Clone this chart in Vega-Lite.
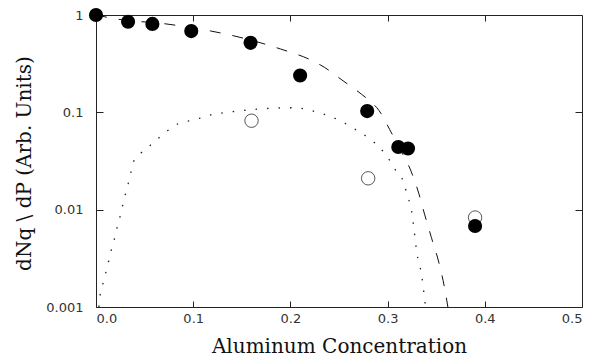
{
  "$schema": "https://vega.github.io/schema/vega-lite/v6.json",
  "autosize": {"type": "none"},
  "padding": {"left": 96, "top": 15, "right": 14, "bottom": 49},
  "width": 486,
  "height": 292,
  "background": "white",
  "config": {
    "view": {"stroke": "#222", "strokeWidth": 1},
    "axis": {"grid": false, "domain": false, "tickColor": "#222", "tickWidth": 1, "labelFont": "DejaVu Sans", "labelFontSize": 13, "labelColor": "#333", "titleFont": "DejaVu Serif", "titleFontSize": 20, "titleFontWeight": "normal", "titleColor": "#111"}
  },
  "datasets": {
    "dashed": [
      {"x": 0, "y": 1}, {"x": 0.021, "y": 0.91}, {"x": 0.072, "y": 0.81}, {"x": 0.118, "y": 0.685},
      {"x": 0.142, "y": 0.61}, {"x": 0.19, "y": 0.447}, {"x": 0.221, "y": 0.345}, {"x": 0.235, "y": 0.29},
      {"x": 0.253, "y": 0.215}, {"x": 0.273, "y": 0.154}, {"x": 0.28, "y": 0.135}, {"x": 0.291, "y": 0.105},
      {"x": 0.302, "y": 0.067}, {"x": 0.311, "y": 0.045}, {"x": 0.324, "y": 0.025}, {"x": 0.332, "y": 0.0148},
      {"x": 0.338, "y": 0.009}, {"x": 0.345, "y": 0.0052}, {"x": 0.353, "y": 0.0028}, {"x": 0.359, "y": 0.0015},
      {"x": 0.362, "y": 0.001}
    ],
    "dotted": [
      {"x": 0.003, "y": 0.001}, {"x": 0.0043, "y": 0.00133}, {"x": 0.007, "y": 0.00172}, {"x": 0.0098, "y": 0.0022},
      {"x": 0.0128, "y": 0.0029}, {"x": 0.0156, "y": 0.0038}, {"x": 0.0187, "y": 0.0049}, {"x": 0.0214, "y": 0.0064},
      {"x": 0.0245, "y": 0.0083}, {"x": 0.0272, "y": 0.0108}, {"x": 0.03, "y": 0.0141}, {"x": 0.0331, "y": 0.0184},
      {"x": 0.0358, "y": 0.0239}, {"x": 0.0388, "y": 0.0314}, {"x": 0.0465, "y": 0.0384}, {"x": 0.0553, "y": 0.0453},
      {"x": 0.0645, "y": 0.0545}, {"x": 0.0738, "y": 0.065}, {"x": 0.084, "y": 0.0759}, {"x": 0.0954, "y": 0.0815},
      {"x": 0.1066, "y": 0.0868}, {"x": 0.1194, "y": 0.095}, {"x": 0.132, "y": 0.099}, {"x": 0.156, "y": 0.1056},
      {"x": 0.18, "y": 0.11}, {"x": 0.204, "y": 0.1115}, {"x": 0.228, "y": 0.1}, {"x": 0.25, "y": 0.083},
      {"x": 0.269, "y": 0.0647}, {"x": 0.281, "y": 0.054}, {"x": 0.291, "y": 0.0444}, {"x": 0.304, "y": 0.0301},
      {"x": 0.31, "y": 0.0238}, {"x": 0.317, "y": 0.0188}, {"x": 0.32, "y": 0.0141}, {"x": 0.324, "y": 0.0106},
      {"x": 0.327, "y": 0.0065}, {"x": 0.33, "y": 0.00367}, {"x": 0.335, "y": 0.00213}, {"x": 0.338, "y": 0.00123},
      {"x": 0.339, "y": 0.001}
    ],
    "filled": [
      {"x": 0, "y": 1}, {"x": 0.033, "y": 0.853}, {"x": 0.058, "y": 0.81}, {"x": 0.098, "y": 0.684},
      {"x": 0.159, "y": 0.518}, {"x": 0.21, "y": 0.239}, {"x": 0.279, "y": 0.103}, {"x": 0.311, "y": 0.044},
      {"x": 0.321, "y": 0.0425}, {"x": 0.39, "y": 0.0068}
    ],
    "open": [
      {"x": 0.16, "y": 0.082}, {"x": 0.28, "y": 0.021}, {"x": 0.39, "y": 0.0083}
    ]
  },
  "resolve": {"axis": {"x": "independent", "y": "independent"}},
  "layer": [
    {
      "data": {"name": "dashed"},
      "mark": {"type": "line", "color": "#111", "strokeWidth": 1, "strokeDash": [11, 12], "interpolate": "monotone", "clip": true},
      "encoding": {
        "x": {"field": "x", "type": "quantitative", "scale": {"domain": [0, 0.5], "nice": false, "zero": false},
          "axis": {"orient": "bottom", "values": [0, 0.1, 0.2, 0.3, 0.4, 0.5], "format": ".1f", "tickSize": -6, "labelPadding": 11, "title": "Aluminum Concentration", "titleX": 243, "titleY": 45, "titleBaseline": "alphabetic", "titleAlign": "center"}},
        "y": {"field": "y", "type": "quantitative", "scale": {"type": "log", "domain": [0.001, 1], "nice": false},
          "axis": {"orient": "left", "values": [0.001, 0.01, 0.1, 1], "format": "~g", "tickSize": -7, "labelPadding": 20, "title": "dNq \\ dP (Arb. Units)", "titleX": -72, "titleY": 148, "titleAngle": -90, "titleAlign": "center", "titleBaseline": "middle"}}
      }
    },
    {
      "data": {"name": "dotted"},
      "mark": {"type": "line", "color": "#222", "strokeWidth": 1.3, "strokeDash": [1.5, 10], "interpolate": "monotone", "clip": true},
      "encoding": {
        "x": {"field": "x", "type": "quantitative", "axis": null},
        "y": {"field": "y", "type": "quantitative", "axis": null}
      }
    },
    {
      "data": {"name": "open"},
      "mark": {"type": "point", "shape": "circle", "filled": false, "stroke": "#111", "strokeWidth": 1, "size": 180, "fill": null},
      "encoding": {
        "x": {"field": "x", "type": "quantitative", "axis": null},
        "y": {"field": "y", "type": "quantitative", "axis": null}
      }
    },
    {
      "data": {"name": "filled"},
      "mark": {"type": "point", "shape": "circle", "filled": true, "color": "#000", "opacity": 1, "size": 200},
      "encoding": {
        "x": {"field": "x", "type": "quantitative",
          "axis": {"orient": "top", "values": [0.1, 0.2, 0.3, 0.4], "labels": false, "tickSize": -6, "title": null}},
        "y": {"field": "y", "type": "quantitative",
          "axis": {"orient": "right", "values": [0.01, 0.1], "labels": false, "tickSize": -7, "title": null}}
      }
    }
  ]
}
